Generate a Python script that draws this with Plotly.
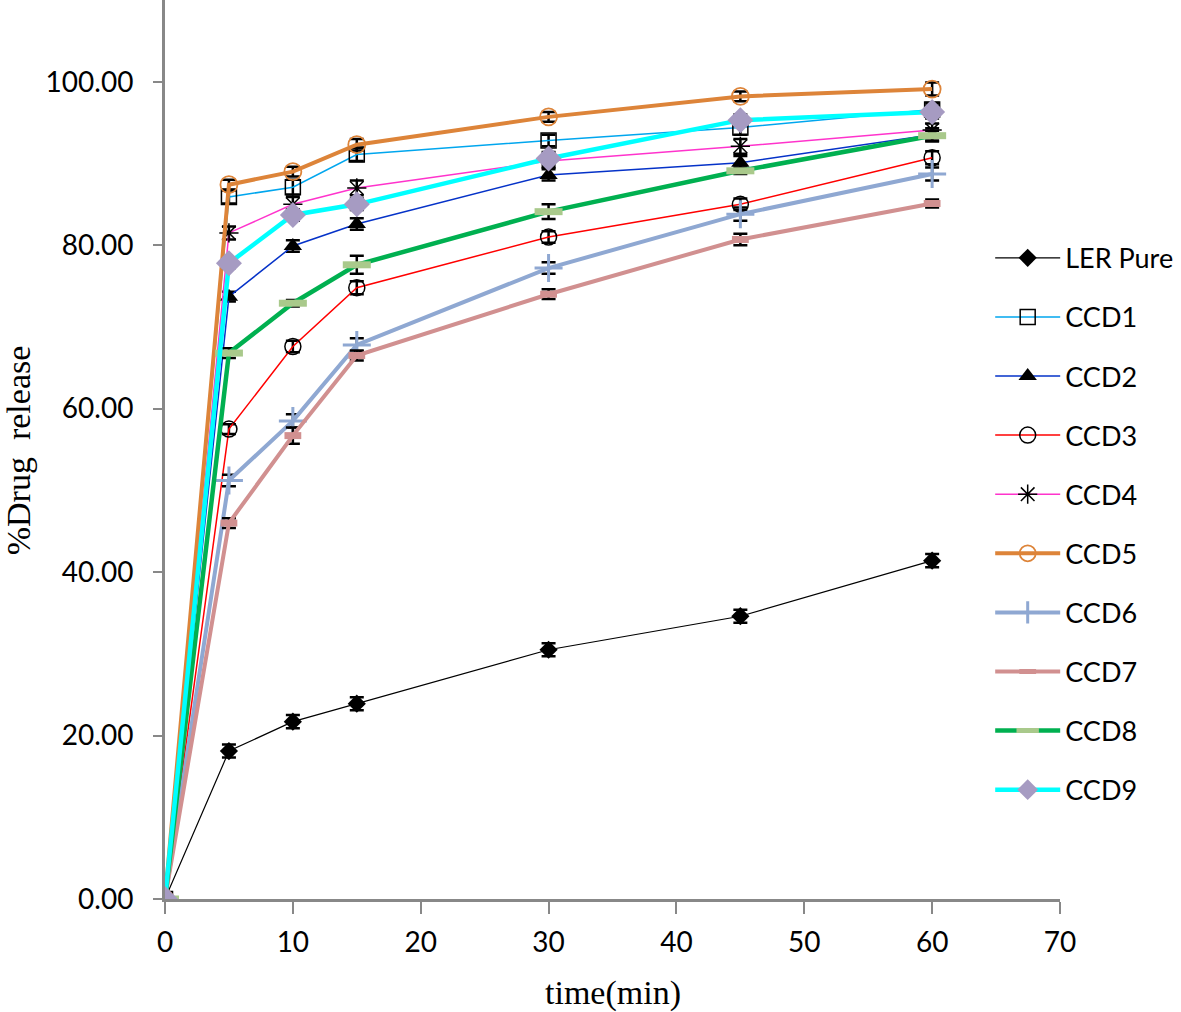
import plotly.graph_objects as go

time_min = [0, 5, 10, 15, 30, 45, 60]

series_names = ["LER Pure", "CCD1", "CCD2", "CCD3", "CCD4", "CCD5", "CCD6", "CCD7", "CCD8", "CCD9"]

ler_pure = [0, 18.1, 21.7, 23.9, 30.5, 34.6, 41.4]
ccd1 = [0, 85.9, 87.1, 91.1, 92.8, 94.4, 96.6]
ccd2 = [0, 73.7, 79.9, 82.6, 88.6, 90.1, 93.5]
ccd3 = [0, 57.5, 67.6, 74.8, 81.0, 85.0, 90.7]
ccd4 = [0, 81.5, 85.0, 87.0, 90.3, 92.1, 94.1]
ccd5 = [0, 87.4, 89.0, 92.3, 95.7, 98.2, 99.1]
ccd6 = [0, 51.2, 58.5, 67.8, 77.2, 83.8, 88.7]
ccd7 = [0, 46.0, 56.7, 66.5, 74.0, 80.7, 85.1]
ccd8 = [0, 66.8, 72.9, 77.6, 84.1, 89.1, 93.4]
ccd9 = [0, 77.8, 83.7, 85.0, 90.6, 95.3, 96.3]

err_ler = [0, 0.8, 0.8, 0.8, 0.8, 0.8, 0.8]
err_ccd1 = [0, 0.8, 0.9, 0.8, 0.7, 0.9, 0.8]
err_ccd2 = [0, 0.6, 0.7, 0.7, 0.7, 0.8, 0.8]
err_ccd3 = [0, 0.6, 0.7, 0.8, 0.7, 0.7, 0.8]
err_ccd4 = [0, 0.8, 0.9, 0.9, 0.8, 0.9, 0.8]
err_ccd5 = [0, 0.6, 0.6, 0.7, 0.6, 0.6, 0.8]
err_ccd6 = [0, 0.7, 0.8, 0.8, 0.7, 0.8, 0.8]
err_ccd7 = [0, 0.6, 1.0, 0.6, 0.6, 0.7, 0.5]
err_ccd8 = [0, 0.6, 0.4, 1.1, 0.9, 0.4, 0.6]
err_ccd9 = [0, 0.6, 0.7, 0.7, 0.8, 0.7, 0.8]

values = [ler_pure, ccd1, ccd2, ccd3, ccd4, ccd5, ccd6, ccd7, ccd8, ccd9]
errors = [err_ler, err_ccd1, err_ccd2, err_ccd3, err_ccd4, err_ccd5, err_ccd6, err_ccd7, err_ccd8, err_ccd9]

styles = [
    dict(line=dict(color="#000000", width=1.2),
         marker=dict(symbol="diamond", size=14, color="#000000", line=dict(width=0))),
    dict(line=dict(color="#00A6EE", width=1.5),
         marker=dict(symbol="square-open", size=15, color="#000000", line=dict(width=1.5, color="#000000"))),
    dict(line=dict(color="#0532C8", width=1.5),
         marker=dict(symbol="triangle-up", size=16, color="#000000", line=dict(width=0))),
    dict(line=dict(color="#FF0000", width=1.5),
         marker=dict(symbol="circle-open", size=16, color="#000000", line=dict(width=1.5, color="#000000"))),
    dict(line=dict(color="#FF33CC", width=1.5),
         marker=dict(symbol="asterisk-open", size=16, color="#000000", line=dict(width=1.5, color="#000000"))),
    dict(line=dict(color="#DD8439", width=4),
         marker=dict(symbol="circle-open", size=17, color="#DD8439", line=dict(width=1.8, color="#DD8439"))),
    dict(line=dict(color="#8FA8D2", width=4),
         marker=dict(symbol="cross-thin-open", size=20, color="#8FA8D2", line=dict(width=3, color="#8FA8D2"))),
    dict(line=dict(color="#D19090", width=4),
         marker=dict(symbol="line-ew-open", size=12, color="#D19090", line=dict(width=7, color="#D19090"))),
    dict(line=dict(color="#00B050", width=4.5),
         marker=dict(symbol="line-ew-open", size=20, color="#A9C98B", line=dict(width=7, color="#A9C98B"))),
    dict(line=dict(color="#00FFFF", width=4.5),
         marker=dict(symbol="diamond", size=20, color="#A69BC2", line=dict(width=0))),
]

fig = go.Figure()
for name, vals, errs, st in zip(series_names, values, errors, styles):
    fig.add_trace(go.Scatter(
        x=time_min, y=vals, name=name, mode="lines+markers",
        line=st["line"], marker=st["marker"], legendgroup=name,
        error_y=dict(type="data", array=errs, visible=True, color="#000000",
                     thickness=2.5, width=7),
    ))

title_font = dict(family="Liberation Serif, 'Times New Roman', serif", size=34, color="#000000")

fig.update_layout(
    width=1181, height=1012,
    margin=dict(l=165, r=121, t=0, b=113, autoexpand=False),
    paper_bgcolor="white", plot_bgcolor="white",
    font=dict(family="Lato, 'Open Sans', sans-serif", size=28, color="#000000"),
    showlegend=True,
    legend=dict(x=0.922, y=0.74, xanchor="left", yanchor="top",
                font=dict(family="Lato, sans-serif", size=27, color="#000000"),
                tracegroupgap=21, itemwidth=65, bgcolor="rgba(0,0,0,0)"),
    xaxis=dict(range=[0, 70], tickvals=[0, 10, 20, 30, 40, 50, 60, 70],
               showgrid=False, zeroline=False, showline=True, linecolor="#888888", linewidth=3,
               ticks="outside", ticklen=12, tickwidth=2, tickcolor="#888888",
               ticklabelstandoff=4, automargin=False),
    yaxis=dict(range=[0, 110], tickvals=[0, 20, 40, 60, 80, 100], tickformat=".2f",
               showgrid=False, zeroline=False, showline=True, linecolor="#888888", linewidth=3,
               ticks="outside", ticklen=9, tickwidth=2, tickcolor="#888888",
               ticklabelstandoff=14, automargin=False),
    annotations=[
        dict(text="time(min)", xref="paper", yref="paper", x=0.5006, y=-0.1046,
             xanchor="center", yanchor="middle", showarrow=False, font=title_font),
        dict(text="%Drug  release", xref="paper", yref="paper", x=-0.164, y=0.4994,
             xanchor="center", yanchor="middle", textangle=-90, showarrow=False, font=title_font),
    ],
)

fig.write_html("out.html", config={"displayModeBar": False},
               post_script="document.body.style.margin='0';document.body.style.overflow='hidden';")
